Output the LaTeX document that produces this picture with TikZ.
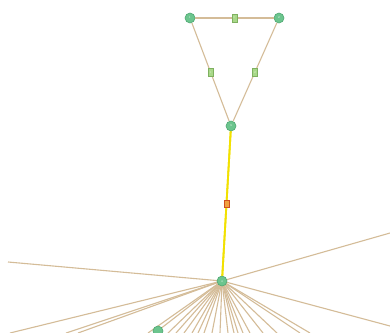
\documentclass[tikz,border=0pt]{standalone}
\usetikzlibrary{calc}
\definecolor{edgec}{HTML}{D4BC98}
\definecolor{nodef}{HTML}{6CC58E}
\definecolor{noded}{HTML}{4FA872}
\definecolor{labf}{HTML}{A8D888}
\definecolor{labd}{HTML}{7FB060}
\definecolor{hi}{HTML}{F2E100}
\definecolor{orf}{HTML}{F0A040}
\definecolor{ord}{HTML}{D05020}
\tikzset{
  vert/.style={circle,fill=nodef,draw=noded,line width=0.6pt,minimum size=10pt,inner sep=0pt,font=\fontsize{3}{3}\selectfont,text=white!85!nodef},
  edge/.style={draw=edgec,line width=1.1pt},
  hiedge/.style={draw=hi,line width=1.8pt},
  elab/.style={rectangle,fill=labf,draw=labd,line width=0.5pt,minimum width=5pt,minimum height=7.5pt,inner sep=0pt,font=\fontsize{3}{3}\selectfont,text=white!70!labf},
  elabhi/.style={rectangle,fill=orf,draw=ord,line width=0.5pt,minimum width=5pt,minimum height=7.5pt,inner sep=0pt}
}
\begin{document}
\begin{tikzpicture}[x=1pt,y=-1pt]
\useasboundingbox (0,0) rectangle (390,332);
\fill[white] (0,0) rectangle (390,332);
\begin{scope}
\clip (0,0) rectangle (390,332);
\coordinate (c) at (222,281);
% fan edges
\foreach \x/\y in {8/262, 390/233, 390/326, 10/333, 66/333, 78/333, 148/333, 155/333, 168/333, 176/333, 184/333, 192/333, 198/333, 204/333, 212/333, 220/333, 228/333, 234/333, 238/333, 243/333, 250/333, 263/333, 277/333, 300/333, 310/333}
  { \draw[edge] (c) -- (\x,\y); }
\node[vert] (n5) at (158,331) {};
\draw[hiedge] (231,126) -- (c);
\end{scope}
\node[vert] (n1) at (190,18) {1};
\node[vert] (n2) at (279,18) {2};
\node[vert] (n3) at (231,126) {3};
\node[vert] (n4) at (222,281) {4};
\draw[edge] (n1) -- node[elab]{0} (n2);
\draw[edge] (n1) -- node[elab]{1} (n3);
\draw[edge] (n2) -- node[elab]{2} (n3);
\draw[hiedge] (n3) -- node[elabhi]{} (n4);
\end{tikzpicture}
\end{document}
